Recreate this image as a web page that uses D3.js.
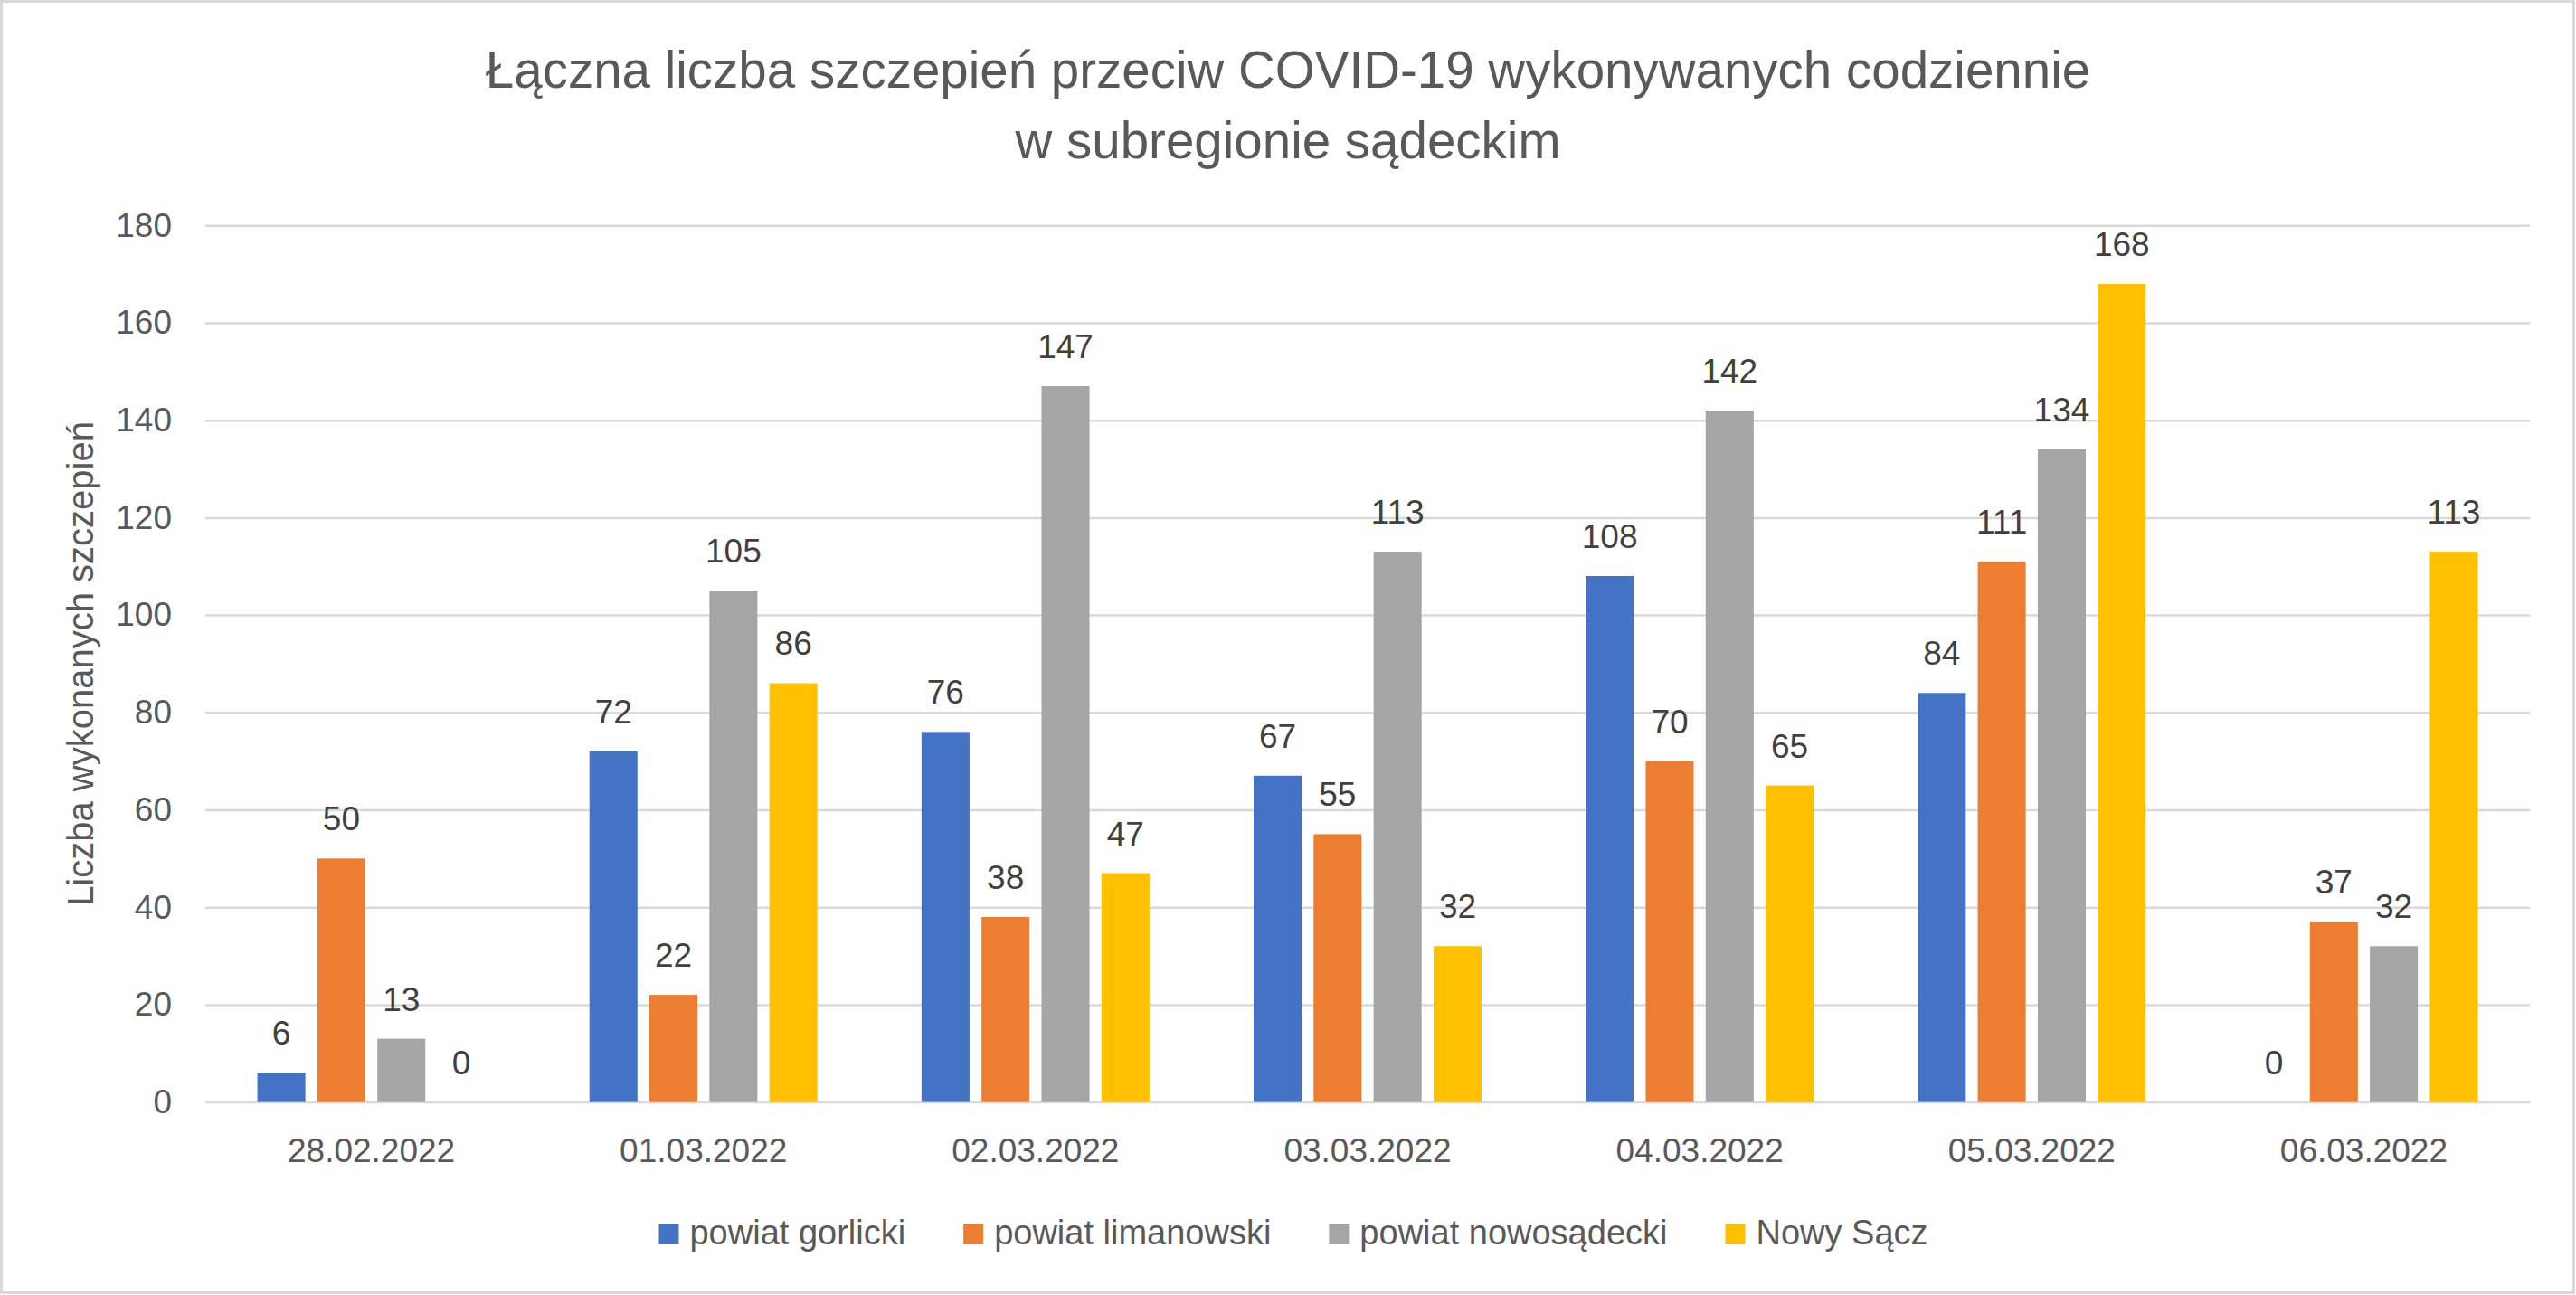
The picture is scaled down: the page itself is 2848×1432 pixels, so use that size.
<!DOCTYPE html>
<html>
<head>
<meta charset="utf-8">
<script src="https://cdn.jsdelivr.net/npm/d3@7"></script>
<style>
  html, body { margin: 0; padding: 0; background: #fff; overflow: hidden; }
  svg { display: block; font-family: "Liberation Sans", Arial, sans-serif; }
</style>
</head>
<body>
<svg id="chart" width="2848" height="1432"></svg>
<script>
const categories = ['28.02.2022', '01.03.2022', '02.03.2022', '03.03.2022',
                    '04.03.2022', '05.03.2022', '06.03.2022'];
const seriesNames = ['powiat gorlicki', 'powiat limanowski', 'powiat nowosądecki', 'Nowy Sącz'];
const gorlicki = [6, 72, 76, 67, 108, 84, 0];
const limanowski = [50, 22, 38, 55, 70, 111, 37];
const nowosadecki = [13, 105, 147, 113, 142, 134, 32];
const nowySacz = [0, 86, 47, 32, 65, 168, 113];
const yTicks = [0, 20, 40, 60, 80, 100, 120, 140, 160, 180];
const titleLines = ['Łączna liczba szczepień przeciw COVID-19 wykonywanych codziennie',
                    'w subregionie sądeckim'];
const yLabel = 'Liczba wykonanych szczepień';

const colors = ['#4472C4', '#ED7D31', '#A5A5A5', '#FFC000'];
const seriesValues = [gorlicki, limanowski, nowosadecki, nowySacz];

const svg = d3.select('svg#chart');
const width = 2848, height = 1432;

const margin = { top: 249.3, right: 51, bottom: 213.4, left: 227 };
const innerWidth = width - margin.left - margin.right;
const innerHeight = height - margin.top - margin.bottom;

// chart frame
svg.append('rect')
    .attr('x', 1.5).attr('y', 1.5)
    .attr('width', width - 4).attr('height', height - 4)
    .attr('fill', '#fff')
    .attr('stroke', '#d9d9d9')
    .attr('stroke-width', 3);

// title
svg.append('g')
  .selectAll('text').data(titleLines)
  .enter().append('text')
    .attr('x', 1424)
    .attr('y', (d, i) => 97 + i * 78)
    .attr('text-anchor', 'middle')
    .attr('fill', '#595959')
    .style('font-size', '56.5px')
    .text(d => d);

const g = svg.append('g')
    .attr('transform', `translate(${margin.left},${margin.top})`);

const xScale = d3.scaleBand()
  .domain(categories)
  .range([0, innerWidth]);

const xInner = d3.scaleBand()
  .domain(seriesNames)
  .range([0, xScale.bandwidth()])
  .paddingInner(0.2)
  .paddingOuter(0.868);

const yScale = d3.scaleLinear()
  .domain([0, 180])
  .range([innerHeight, 0]);

// gridlines + y ticks
const yAxis = d3.axisLeft(yScale)
  .tickValues(yTicks)
  .tickSize(-innerWidth)
  .tickPadding(37);

const yAxisG = g.append('g')
    .attr('font-family', null)
    .attr('font-size', null)
    .call(yAxis);
yAxisG.select('.domain').remove();
yAxisG.selectAll('line')
    .attr('stroke', '#d9d9d9')
    .attr('stroke-width', 2.5);
yAxisG.selectAll('text')
    .attr('fill', '#595959')
    .style('font-size', '37px')
    .style('font-family', '"Liberation Sans", Arial, sans-serif');

// x axis labels
const xAxis = d3.axisBottom(xScale)
  .tickSize(0)
  .tickPadding(40);
const xAxisG = g.append('g')
    .attr('transform', `translate(0,${innerHeight})`)
    .call(xAxis);
xAxisG.select('.domain').remove();
xAxisG.selectAll('text')
    .attr('fill', '#595959')
    .style('font-size', '37px')
    .style('font-family', '"Liberation Sans", Arial, sans-serif');

// y axis title
svg.append('text')
    .attr('transform', `translate(103,${margin.top + innerHeight / 2}) rotate(-90)`)
    .attr('text-anchor', 'middle')
    .attr('fill', '#595959')
    .style('font-size', '40px')
    .text(yLabel);

// bars
const groups = g.selectAll('.group').data(categories)
  .enter().append('g')
    .attr('class', 'group')
    .attr('transform', d => `translate(${xScale(d)},0)`);

const barData = (cat, ci) => seriesNames.map((s, si) => ({
  series: s, value: seriesValues[si][ci], color: colors[si]
}));

groups.selectAll('rect').data(barData)
  .enter().append('rect')
    .attr('x', d => xInner(d.series))
    .attr('y', d => yScale(d.value))
    .attr('width', xInner.bandwidth())
    .attr('height', d => innerHeight - yScale(d.value))
    .attr('fill', d => d.color);

groups.selectAll('.label').data(barData)
  .enter().append('text')
    .attr('class', 'label')
    .attr('x', d => xInner(d.series) + xInner.bandwidth() / 2)
    .attr('y', d => yScale(d.value) - 31)
    .attr('text-anchor', 'middle')
    .attr('fill', '#404040')
    .style('font-size', '37px')
    .text(d => d.value);

// legend
const legend = svg.append('g');
const items = legend.selectAll('g').data(seriesNames)
  .enter().append('g');
items.append('rect')
    .attr('y', 1353)
    .attr('width', 22).attr('height', 23)
    .attr('fill', (d, i) => colors[i]);
items.append('text')
    .attr('x', 34)
    .attr('y', 1376)
    .attr('fill', '#595959')
    .style('font-size', '38px')
    .text(d => d);

let offset = 0;
const positions = [];
items.each(function() {
  positions.push(offset);
  offset += 34 + this.querySelector('text').getComputedTextLength() + 64;
});
const legendWidth = offset - 64;
items.attr('transform', (d, i) => `translate(${1430 - legendWidth / 2 + positions[i]},0)`);
</script>
</body>
</html>
